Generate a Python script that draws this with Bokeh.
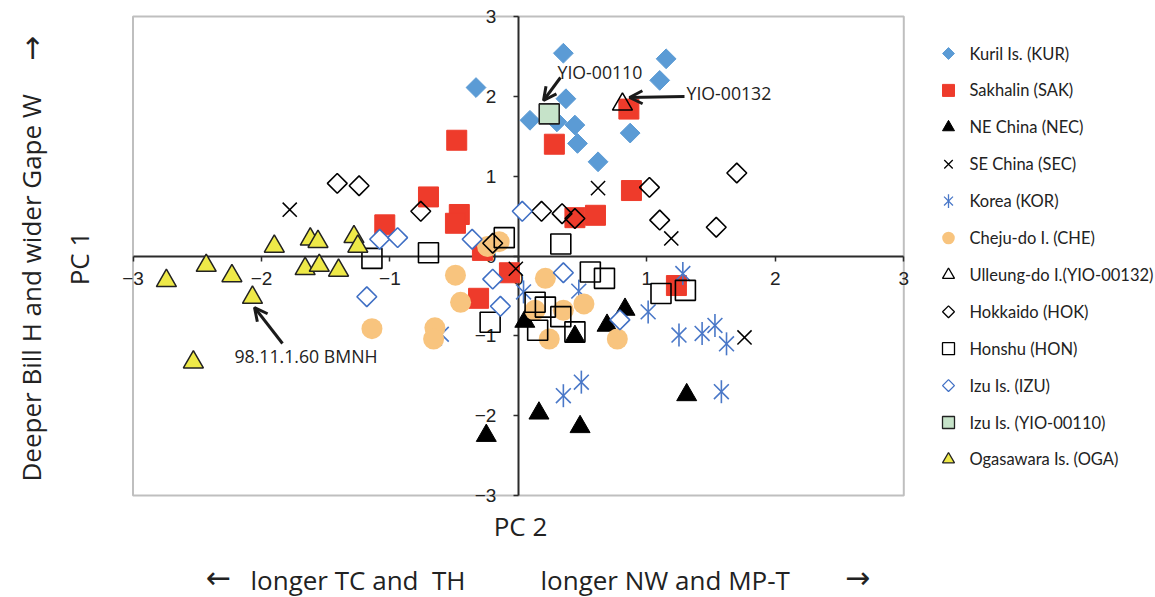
from bokeh.plotting import figure
from bokeh.models import Range1d, Label, Arrow, OpenHead, FixedTicker, BoxAnnotation
from bokeh.core.properties import value
from bokeh.embed import file_html
from bokeh.resources import INLINE
import math

# ---------------- data (PC2 = x, PC1 = y) ----------------
kur_x = [-0.33, 0.35, 1.15, 1.10, 0.37, 0.09, 0.30, 0.44, 0.46, 0.87, 0.62]
kur_y = [2.11, 2.54, 2.47, 2.20, 1.97, 1.70, 1.68, 1.64, 1.41, 1.54, 1.18]

sak_x = [-0.48, -0.70, -0.46, -0.49, -1.04, 0.28, 0.86, 0.88, 0.60, 0.44, -0.28, -0.07, -0.31, 1.23]
sak_y = [1.45, 0.74, 0.52, 0.41, 0.39, 1.40, 1.84, 0.82, 0.51, 0.48, 0.07, -0.21, -0.53, -0.37]

nec_x = [-0.25, 0.05, 0.44, 0.69, 0.83, 0.16, 0.48, 1.31]
nec_y = [-2.25, -0.82, -1.01, -0.87, -0.67, -1.97, -2.14, -1.74]

sec_x = [-1.78, 0.62, 1.19, -0.02, 1.76]
sec_y = [0.58, 0.85, 0.22, -0.16, -1.02]

kor_x = [1.28, 1.01, 1.25, 1.43, 0.49, 0.35, 0.47, 0.04, 1.53, 1.62, 1.58, -0.60]
kor_y = [-0.22, -0.70, -0.99, -0.97, -1.58, -1.75, -0.44, -0.45, -0.87, -1.10, -1.70, -0.98]

che_x = [-0.49, -0.45, -1.14, -0.65, -0.66, -0.24, -0.15, 0.21, 0.13, 0.35, 0.51, 0.24, 0.77]
che_y = [-0.24, -0.58, -0.91, -0.90, -1.04, 0.12, 0.18, -0.28, -0.68, -0.68, -0.60, -1.04, -1.04]

ull_x = [0.81]
ull_y = [1.90]

hok_x = [-1.41, -1.24, -0.76, -0.20, 0.18, 0.34, 0.44, 1.02, 1.10, 1.70, 1.54]
hok_y = [0.91, 0.88, 0.56, 0.16, 0.56, 0.53, 0.47, 0.86, 0.45, 1.04, 0.36]

hon_x = [-1.14, -0.70, -0.11, -0.22, 0.33, 0.56, 0.67, 1.11, 1.30, 0.13, 0.21, 0.33, 0.15, 0.44]
hon_y = [-0.03, 0.04, 0.23, -0.83, 0.15, -0.20, -0.28, -0.47, -0.43, -0.58, -0.64, -0.76, -0.93, -0.95]

izu_x = [-1.08, -0.94, -0.36, -1.18, -0.20, -0.14, 0.03, 0.35, 0.79]
izu_y = [0.21, 0.23, 0.21, -0.51, -0.29, -0.63, 0.56, -0.21, -0.80]

yio110_x = [0.24]
yio110_y = [1.78]

oga_x = [-1.90, -1.62, -1.56, -1.28, -1.25, -2.74, -2.43, -2.23, -2.07, -2.53, -1.66, -1.55, -1.40]
oga_y = [0.12, 0.21, 0.18, 0.24, 0.12, -0.31, -0.12, -0.25, -0.52, -1.33, -0.16, -0.12, -0.18]

tick_values = [-3, -2, -1, 0, 1, 2, 3]
tick_labels = ["\u22123", "\u22122", "\u22121", "0", "1", "2", "3"]

legend_labels = ["Kuril Is. (KUR)", "Sakhalin (SAK)", "NE China (NEC)", "SE China (SEC)",
                 "Korea (KOR)", "Cheju-do I. (CHE)", "Ulleung-do I.(YIO-00132)", "Hokkaido (HOK)",
                 "Honshu (HON)", "Izu Is. (IZU)", "Izu Is. (YIO-00110)", "Ogasawara Is. (OGA)"]

# ---------------- layout (pixels of the picture) ----------------
W, H = 1155, 597
FX0, FX1 = 132.5, 903.3      # pixel x of PC2 = -3 and +3
FY0, FY1 = 16.0, 495.0       # pixel y of PC1 = +3 and -3
SX = (FX1 - FX0) / 6.0
SY = (FY1 - FY0) / 6.0


def dx(px):
    return -3 + (px - FX0) / SX


def dy(py):
    return 3 - (py - FY0) / SY


# annotations: (text, text px-x, px-y, arrow start px, arrow end px)
notes = [
    ("YIO-00110", 557, 71, (560, 77), (543, 100)),
    ("YIO-00132", 686, 92, (684, 96), (629, 97)),
    ("98.11.1.60 BMNH", 234, 355, (282, 343), (254, 307)),
]

p = figure(width=W, height=H, x_range=Range1d(dx(0), dx(W)), y_range=Range1d(dy(H), dy(0)),
           output_backend="svg", toolbar_location=None, min_border=0)
p.grid.visible = False
p.outline_line_color = None
p.background_fill_color = "white"
p.border_fill_color = "white"

# frame box of the PC plane
p.add_layout(BoxAnnotation(left=tick_values[0], right=tick_values[-1], bottom=tick_values[0], top=tick_values[-1],
                           fill_alpha=0, line_color="#2b2b2b", line_width=2, level="underlay"))

for ax in (p.xaxis[0], p.yaxis[0]):
    ax.fixed_location = 0
    ax.bounds = (tick_values[0], tick_values[-1])
    ax.level = "underlay"
    ax.ticker = FixedTicker(ticks=tick_values)
    ax.major_label_overrides = dict(zip(tick_values, tick_labels))
    ax.axis_line_width = 2
    ax.axis_line_color = "#2b2b2b"
    ax.major_tick_in = 0
    ax.major_tick_out = 5
    ax.major_tick_line_width = 1.5
    ax.major_tick_line_color = "#2b2b2b"
    ax.minor_tick_line_color = None
    ax.major_label_text_font = "Liberation Sans"
    ax.major_label_text_font_size = "19px"
    ax.major_label_text_color = "#222222"
p.xaxis[0].major_label_standoff = 11
p.yaxis[0].major_label_standoff = 17

D45 = math.pi / 4
BLUE = "#4A78C8"
specs = [
    (kur_x, kur_y, [dict(marker="square", size=14, angle=D45, fill_color="#5B9BD5", line_color="#5B9BD5", line_width=1)]),
    (sak_x, sak_y, [dict(marker="square", size=20, fill_color="#EE3B2B", line_color="#EE3B2B", line_width=1)]),
    (nec_x, nec_y, [dict(marker="triangle", size=20, fill_color="black", line_color="black", line_width=1)]),
    (sec_x, sec_y, [dict(marker="x", size=20, line_color="black", line_width=1.5)]),
    (kor_x, kor_y, [dict(marker="x", size=21, line_color=BLUE, line_width=1.6),
                    dict(marker="dash", size=23, angle=math.pi / 2, line_color=BLUE, line_width=1.6)]),
    (che_x, che_y, [dict(marker="circle", size=21, fill_color="#F8C47E", line_color=None)]),
    (ull_x, ull_y, [dict(marker="triangle", size=20, fill_color="white", fill_alpha=0.0, line_color="black", line_width=1.5)]),
    (hok_x, hok_y, [dict(marker="square", size=14, angle=D45, fill_color=None, line_color="black", line_width=1.6)]),
    (hon_x, hon_y, [dict(marker="square", size=20, fill_color=None, line_color="black", line_width=1.6)]),
    (izu_x, izu_y, [dict(marker="square", size=14, angle=D45, fill_color="white", line_color="#3F6FC4", line_width=1.6)]),
    (yio110_x, yio110_y, [dict(marker="square", size=20, fill_color="#C6E3C9", line_color="#222222", line_width=1.6)]),
    (oga_x, oga_y, [dict(marker="triangle", size=20, fill_color="#EEE948", line_color="#222222", line_width=1.5)]),
]

# legend geometry (pixels)
LEG_MX, LEG_TX, LEG_Y0, LEG_DY, LEG_SCALE = 948, 969, 53, 36.9, 0.6

leg_text_x, leg_text_y = [], []
for i, ((xs, ys, styles), lab) in enumerate(zip(specs, legend_labels)):
    for st in styles:
        p.scatter(xs, ys, **st)
    ly = dy(LEG_Y0 + LEG_DY * i)
    for st in styles:
        lst = dict(st)
        lst["size"] = st["size"] * LEG_SCALE
        lst["line_width"] = min(st.get("line_width", 1), 1.3)
        p.scatter([dx(LEG_MX)], [ly], **lst)
    leg_text_x.append(dx(LEG_TX))
    leg_text_y.append(ly)

p.text(x=leg_text_x, y=leg_text_y, text=legend_labels, text_font=value("Lato"), text_font_size="16.5px",
       text_color="#222222", text_baseline="middle", text_align="left")

for txt, tpx, tpy, (ax0, ay0), (ax1, ay1) in notes:
    p.add_layout(Label(x=dx(tpx), y=dy(tpy), text=txt, text_font="Open Sans", text_font_size="17.7px",
                       text_color="#222222", text_baseline="middle", text_align="left"))
    p.add_layout(Arrow(x_start=dx(ax0), y_start=dy(ay0), x_end=dx(ax1), y_end=dy(ay1),
                       line_width=3, line_color="#1a1a1a",
                       end=OpenHead(size=13, line_width=3, line_color="#1a1a1a")))

# axis titles
ls = dict(text_font="Open Sans", text_color="#222222", text_baseline="middle", text_font_size="26px")
arr = dict(text_font="DejaVu Sans", text_color="#222222", text_baseline="middle", text_font_size="30px",
           text_align="center")
p.add_layout(Label(x=dx(520), y=dy(525), text="PC 2", text_align="center", **ls))
p.add_layout(Label(x=dx(218), y=dy(577), text="\u2190", **arr))
p.add_layout(Label(x=dx(250), y=dy(579), text="longer TC and\u00a0 TH", text_align="left", **ls))
p.add_layout(Label(x=dx(540), y=dy(579), text="longer NW and MP-T", text_align="left", **ls))
p.add_layout(Label(x=dx(857), y=dy(577), text="\u2192", **arr))
p.add_layout(Label(x=dx(78), y=dy(258), text="PC 1", text_align="center", angle=90, angle_units="deg", **ls))
p.add_layout(Label(x=dx(30), y=dy(481), text="Deeper Bill H and wider Gape W", text_align="left",
                   angle=90, angle_units="deg", **ls))
p.add_layout(Label(x=dx(31), y=dy(48), text="\u2192", angle=90, angle_units="deg", **arr))

open("out.html", "w").write(file_html(p, INLINE))
